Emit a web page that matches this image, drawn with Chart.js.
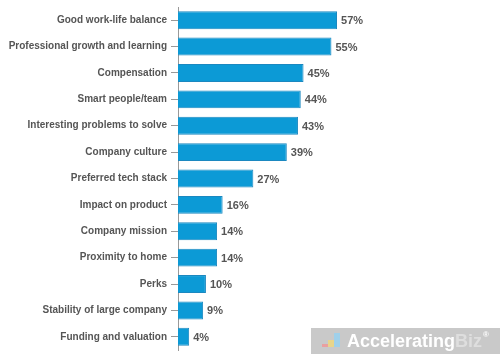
<!DOCTYPE html>
<html>
<head>
<meta charset="utf-8">
<script src="https://cdn.jsdelivr.net/npm/chart.js@4/dist/chart.umd.min.js"></script>
<style>
  html, body { margin: 0; padding: 0; background: #fff; }
  #wrap { width: 500px; height: 358px; position: relative; }
</style>
</head>
<body>
<div id="wrap"><canvas id="reasonsChart"></canvas></div>
<script>
// categories and values
const reasons = [
    'Good work-life balance',
    'Professional growth and learning',
    'Compensation',
    'Smart people/team',
    'Interesting problems to solve',
    'Company culture',
    'Preferred tech stack',
    'Impact on product',
    'Company mission',
    'Proximity to home',
    'Perks',
    'Stability of large company',
    'Funding and valuation'
];
const percentages = [57, 55, 45, 44, 43, 39, 27, 16, 14, 14, 10, 9, 4];

const fontFamily = '"Liberation Sans", Arial, sans-serif';

// draws the "57%" style labels right of each bar
const valueLabels = {
    id: 'valueLabels',
    afterDatasetsDraw(chart) {
        const ctx = chart.ctx;
        const meta = chart.getDatasetMeta(0);
        ctx.save();
        ctx.font = 'bold 11px ' + fontFamily;
        ctx.fillStyle = '#555';
        ctx.textBaseline = 'middle';
        meta.data.forEach((bar, i) => {
            ctx.fillText(percentages[i] + '%', bar.x + 4, bar.y + 1);
        });
        ctx.restore();
    }
};

// watermark box bottom right
const watermark = {
    id: 'watermark',
    afterDraw(chart) {
        const ctx = chart.ctx;
        ctx.save();
        ctx.fillStyle = '#c9c9c9';
        ctx.fillRect(311, 328, 189, 26);
        // little chart icon
        ctx.fillStyle = '#e9a0a0';
        ctx.fillRect(322, 344, 8, 3);
        ctx.fillStyle = '#e8d58a';
        ctx.fillRect(328, 340, 6, 7);
        ctx.fillStyle = '#9fd0ea';
        ctx.fillRect(334, 333, 6, 14);
        ctx.font = 'bold 18px ' + fontFamily;
        ctx.textBaseline = 'middle';
        ctx.fillStyle = '#ffffff';
        ctx.fillText('Accelerating', 347, 342);
        const w = ctx.measureText('Accelerating').width;
        ctx.fillStyle = '#dedede';
        ctx.fillText('Biz', 347 + w, 342);
        const w2 = ctx.measureText('Biz').width;
        ctx.font = 'bold 8px ' + fontFamily;
        ctx.fillStyle = '#ffffff';
        ctx.fillText('®', 348 + w + w2, 335);
        ctx.restore();
    }
};

new Chart(document.getElementById('reasonsChart'), {
    type: 'bar',
    data: {
        labels: reasons,
        datasets: [{
            data: percentages,
            backgroundColor: '#0c9ad6',
            borderColor: '#1b88c0',
            borderWidth: 1,
            borderSkipped: 'left',
            barPercentage: 1,
            categoryPercentage: 0.68
        }]
    },
    options: {
        indexAxis: 'y',
        responsive: true,
        maintainAspectRatio: false,
        animation: false,
        layout: { padding: { top: 7, bottom: 8, left: 0, right: 43 } },
        plugins: {
            legend: { display: false },
            tooltip: { enabled: false }
        },
        scales: {
            x: {
                display: false,
                min: 0,
                max: 100
            },
            y: {
                afterFit: (scale) => {
                    scale.width = 178;
                    scale.paddingTop = 0;
                    scale.paddingBottom = 0;
                },
                border: { display: true, color: '#999', width: 1 },
                grid: {
                    offset: false,
                    drawOnChartArea: false,
                    drawTicks: true,
                    tickLength: 7,
                    color: '#999'
                },
                ticks: {
                    color: '#555',
                    padding: 4,
                    font: { family: fontFamily, size: 10, weight: 'bold' }
                }
            }
        }
    },
    plugins: [valueLabels, watermark]
});
</script>
</body>
</html>
